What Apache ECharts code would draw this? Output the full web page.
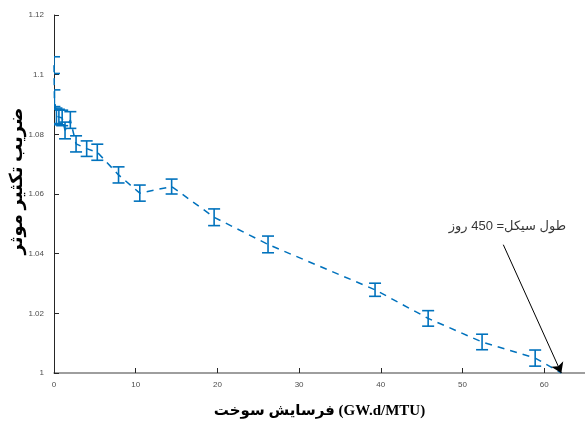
<!DOCTYPE html>
<html>
<head>
<meta charset="utf-8">
<script src="https://cdn.jsdelivr.net/npm/echarts@6/dist/echarts.min.js"></script>
<style>
html, body { margin: 0; padding: 0; background: #fff; }
#chart { width: 585px; height: 423px; }
</style>
</head>
<body>
<div id="chart"></div>
<script>
// burnup (GW.d/MTU) and effective multiplication factor with its error
const burnup = [0, 0.05, 0.3, 0.6, 1.0, 1.35, 2.0, 2.7, 4.0, 5.3, 7.9, 10.5, 14.4, 19.6, 26.2, 39.3, 45.8, 52.4, 58.9, 62.1];
const keff = [1.1032, 1.0921, 1.0862, 1.0858, 1.0855, 1.0813, 1.0848, 1.0768, 1.0752, 1.0740, 1.0664, 1.0603, 1.0625, 1.0522, 1.0431, 1.0279, 1.0183, 1.0104, 1.0050, 1.0000];
const keffErr = [0.0028, 0.0028, 0.0026, 0.0026, 0.0026, 0.0028, 0.0028, 0.0027, 0.0026, 0.0027, 0.0027, 0.0027, 0.0025, 0.0028, 0.0028, 0.0022, 0.0026, 0.0026, 0.0027, 0];

const yTickStep = 0.02;
const noteText = '\u202Bطول سیکل= 450 روز\u202C';
const notePos = [55.5, 1.0490];
const arrowFrom = [55.0, 1.0430];
const arrowTo = [62.1, 1.0000];

const blue = '#0072BD';

const chart = echarts.init(document.getElementById('chart'));

const lineData = burnup.map((x, i) => [x, keff[i]]);
const errData = burnup
	.map((x, i) => [x, keff[i] - keffErr[i], keff[i] + keffErr[i]])
	.filter((d, i) => keffErr[i] > 0);

const renderErrorBar = (params, api) => {
	const lo = api.coord([api.value(0), api.value(1)]);
	const hi = api.coord([api.value(0), api.value(2)]);
	const half = 6;
	const style = { stroke: blue, lineWidth: 1.6 };
	return {
		type: 'group',
		children: [
			{ type: 'line', shape: { x1: lo[0], y1: lo[1], x2: hi[0], y2: hi[1] }, style },
			{ type: 'line', shape: { x1: lo[0] - half, y1: lo[1], x2: lo[0] + half, y2: lo[1] }, style },
			{ type: 'line', shape: { x1: hi[0] - half, y1: hi[1], x2: hi[0] + half, y2: hi[1] }, style }
		]
	};
};

const options = {
	animation: false,
	backgroundColor: '#fff',
	grid: { left: 54, right: 0, top: 15, bottom: 50, containLabel: false, outerBoundsMode: 'none' },
	xAxis: {
		type: 'value',
		min: 0,
		max: 65,
		interval: 10,
		name: 'فرسایش سوخت (GW.d/MTU)',
		nameLocation: 'middle',
		nameGap: 31,
		nameMoveOverlap: false,
		nameTextStyle: { fontFamily: 'Liberation Serif, DejaVu Sans', fontWeight: 'bold', fontSize: 15, color: '#000' },
		axisLine: { lineStyle: { color: '#7f7f7f', width: 1.5 } },
		axisTick: { inside: true, length: 5, lineStyle: { color: '#262626' } },
		axisLabel: {
			fontSize: 8, color: '#4d4d4d', margin: 8, fontFamily: 'Liberation Sans',
			formatter: v => (v > 60 ? '' : v)
		},
		splitLine: { show: false }
	},
	yAxis: {
		type: 'value',
		min: 1,
		max: 1.12,
		interval: yTickStep,
		name: 'ضریب تکثیر موثر',
		nameLocation: 'middle',
		nameGap: 28,
		nameMoveOverlap: false,
		nameTextStyle: {
			fontFamily: 'Liberation Serif, DejaVu Sans', fontWeight: 'bold', fontSize: 18, color: '#000',
			padding: [0, 0, 0, 26]
		},
		axisLine: { show: true, lineStyle: { color: '#262626', width: 1 } },
		axisTick: { show: true, inside: true, length: 5, lineStyle: { color: '#262626' } },
		axisLabel: { fontSize: 8, color: '#4d4d4d', margin: 10, fontFamily: 'Liberation Sans' },
		splitLine: { show: false }
	},
	series: [
		{
			type: 'line',
			data: lineData,
			showSymbol: false,
			lineStyle: { color: blue, width: 1.5, type: [7, 6] },
			z: 2
		},
		{
			type: 'custom',
			data: errData,
			renderItem: renderErrorBar,
			clip: true,
			z: 3
		},
		{
			type: 'scatter',
			data: [notePos],
			symbolSize: 0,
			silent: true,
			label: {
				show: true,
				position: 'inside',
				formatter: noteText,
				fontSize: 13,
				color: '#000',
				fontFamily: 'Liberation Sans, DejaVu Sans'
			},
			markLine: {
				silent: true,
				symbol: ['none', 'arrow'],
				symbolSize: 10,
				label: { show: false },
				lineStyle: { color: '#000', width: 1, type: 'solid' },
				data: [[{ coord: arrowFrom }, { coord: arrowTo }]]
			}
		}
	]
};

chart.setOption(options);
</script>
</body>
</html>
